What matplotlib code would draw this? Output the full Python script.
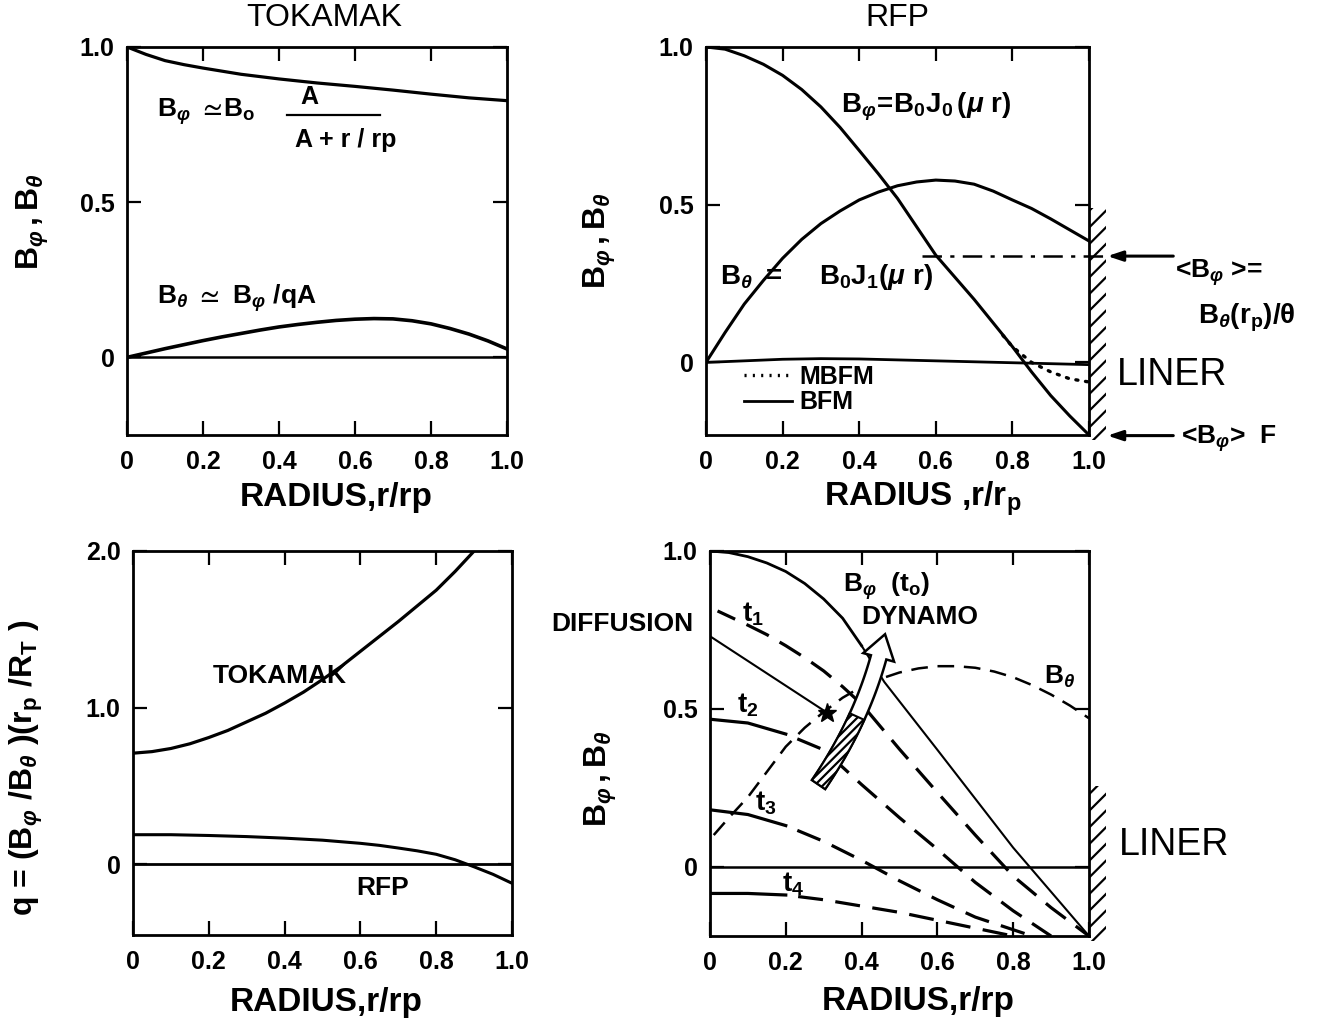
import numpy as np
import matplotlib
matplotlib.use('Agg')
import matplotlib.pyplot as plt
from matplotlib.patches import Polygon, Rectangle
from matplotlib.lines import Line2D

plt.rcParams['font.family'] = ['Liberation Sans', 'DejaVu Sans']
plt.rcParams['font.weight'] = 'bold'
plt.rcParams['axes.labelweight'] = 'bold'
plt.rcParams['mathtext.fontset'] = 'custom'
plt.rcParams['mathtext.rm'] = 'Liberation Sans:bold'
plt.rcParams['mathtext.it'] = 'Liberation Sans:bold:italic'
plt.rcParams['mathtext.bf'] = 'Liberation Sans:bold'
plt.rcParams['mathtext.sf'] = 'Liberation Sans:bold'
plt.rcParams['mathtext.fallback'] = 'stixsans'
plt.rcParams['hatch.linewidth'] = 1.6
plt.rcParams['lines.scale_dashes'] = False
plt.rcParams['axes.linewidth'] = 2.0

# ---- data ----
rad_ticks = [0, 0.2, 0.4, 0.6, 0.8, 1.0]
rad_labels = ['0', '0.2', '0.4', '0.6', '0.8', '1.0']

# tokamak fields
r_tok = [0, 0.05, 0.1, 0.15, 0.2, 0.3, 0.4, 0.5, 0.6, 0.7, 0.8, 0.9, 1.0]
bphi_tok = [1.0, 0.976, 0.956, 0.943, 0.932, 0.912, 0.897, 0.884, 0.873, 0.861, 0.848, 0.836, 0.827]
r_tok2 = [0, 0.05, 0.1, 0.15, 0.2, 0.25, 0.3, 0.35, 0.4, 0.45, 0.5, 0.55, 0.6, 0.65, 0.7,
          0.75, 0.8, 0.85, 0.9, 0.95, 1.0]
btheta_tok = [0.0, 0.014, 0.028, 0.041, 0.054, 0.066, 0.077, 0.088, 0.098, 0.106, 0.113,
              0.119, 0.123, 0.125, 0.124, 0.118, 0.108, 0.093, 0.075, 0.053, 0.027]

# rfp fields (BFM)
r_rfp = [0, 0.05, 0.1, 0.15, 0.2, 0.25, 0.3, 0.35, 0.4, 0.45, 0.5, 0.55, 0.6, 0.65, 0.7,
         0.75, 0.8, 0.85, 0.9, 0.95, 1.0]
bphi_rfp = [1.0, 0.993, 0.972, 0.945, 0.91, 0.865, 0.81, 0.745, 0.672, 0.598, 0.52, 0.43,
            0.34, 0.27, 0.2, 0.125, 0.05, -0.03, -0.105, -0.17, -0.23]
btheta_rfp = [0.0, 0.095, 0.185, 0.26, 0.33, 0.39, 0.44, 0.48, 0.515, 0.54, 0.56, 0.572,
              0.578, 0.575, 0.565, 0.543, 0.515, 0.488, 0.455, 0.42, 0.385]
r_base = [0, 0.1, 0.2, 0.3, 0.4, 0.5, 0.6, 0.7, 0.8, 0.9, 1.0]
base_rfp = [0.0, 0.005, 0.01, 0.012, 0.011, 0.008, 0.005, 0.002, -0.001, -0.004, -0.007]
# MBFM edge
r_mbfm = [0.775, 0.8, 0.85, 0.9, 0.95, 1.0]
bphi_mbfm = [0.086, 0.05, 0.0, -0.03, -0.052, -0.062]
# <B_phi> level
r_avg = [0.563, 1.04]
bphi_avg = [0.337, 0.337]

# safety factor
r_q_tok = [0, 0.05, 0.1, 0.15, 0.2, 0.25, 0.3, 0.35, 0.4, 0.45, 0.5, 0.55, 0.6, 0.65, 0.7,
           0.75, 0.8, 0.85, 0.9, 0.92]
q_tok = [0.71, 0.72, 0.74, 0.77, 0.81, 0.855, 0.91, 0.965, 1.03, 1.10, 1.18, 1.265, 1.36,
         1.455, 1.55, 1.65, 1.75, 1.87, 2.0, 2.05]
r_q_rfp = [0, 0.1, 0.2, 0.3, 0.4, 0.5, 0.6, 0.65, 0.7, 0.75, 0.8, 0.85, 0.9, 0.95, 1.0]
q_rfp = [0.19, 0.19, 0.185, 0.178, 0.168, 0.155, 0.135, 0.122, 0.105, 0.087, 0.065, 0.03,
         -0.015, -0.063, -0.12]

# field diffusion / dynamo
r_t0 = [0, 0.05, 0.1, 0.15, 0.2, 0.25, 0.3, 0.35, 0.4, 0.46, 0.6, 0.7, 0.8, 0.9, 1.0]
bphi_t0 = [1.0, 0.995, 0.982, 0.962, 0.935, 0.897, 0.848, 0.787, 0.70, 0.585, 0.37, 0.215,
           0.06, -0.08, -0.22]
r_t1 = [0.02, 0.1, 0.15, 0.2, 0.25, 0.3, 0.35, 0.4, 0.5, 0.6, 0.7, 0.8, 0.9, 1.0]
bphi_t1 = [0.81, 0.765, 0.735, 0.70, 0.662, 0.62, 0.57, 0.515, 0.372, 0.235, 0.10, -0.03,
           -0.13, -0.22]
r_t2 = [0, 0.1, 0.2, 0.3, 0.4, 0.5, 0.6, 0.7, 0.8, 0.9]
bphi_t2 = [0.467, 0.455, 0.42, 0.37, 0.26, 0.155, 0.055, -0.05, -0.14, -0.22]
r_t3 = [0, 0.1, 0.2, 0.3, 0.4, 0.5, 0.6, 0.7, 0.85]
bphi_t3 = [0.18, 0.165, 0.13, 0.08, 0.02, -0.045, -0.105, -0.16, -0.22]
r_t4 = [0, 0.1, 0.2, 0.3, 0.4, 0.5, 0.6, 0.7, 0.8]
bphi_t4 = [-0.085, -0.085, -0.09, -0.105, -0.125, -0.145, -0.17, -0.195, -0.22]
r_bth = [0.01, 0.05, 0.1, 0.15, 0.2, 0.25, 0.3, 0.35, 0.4, 0.45, 0.5, 0.55, 0.6, 0.65, 0.7,
         0.75, 0.8, 0.85, 0.9, 0.95, 1.0]
btheta_br = [0.10, 0.155, 0.22, 0.30, 0.38, 0.44, 0.49, 0.535, 0.57, 0.595, 0.615, 0.628,
             0.635, 0.635, 0.63, 0.618, 0.60, 0.575, 0.545, 0.51, 0.47]
r_diff = [0, 0.31]
bphi_diff = [0.73, 0.487]


def frame(ax, ylim, yticks, ylabels):
    ax.set_xlim(0, 1)
    ax.set_ylim(*ylim)
    ax.set_xticks(rad_ticks)
    ax.set_xticklabels(rad_labels)
    ax.set_yticks(yticks)
    ax.set_yticklabels(ylabels)
    ax.tick_params(direction='in', length=10, width=1.6, top=True, right=True,
                   labelsize=18)
    ax.tick_params(axis='x', pad=11)
    ax.tick_params(axis='y', pad=9)


def hollow_arrow(ax, p0, p1, p2, w, hw, hl, split):
    T = ax.transData
    P = T.transform([p0, p1, p2])
    t = np.linspace(0, 1, 60)[:, None]
    B = (1 - t) ** 2 * P[0] + 2 * (1 - t) * t * P[1] + t ** 2 * P[2]
    dB = 2 * (1 - t) * (P[1] - P[0]) + 2 * t * (P[2] - P[1])
    d = dB / np.linalg.norm(dB, axis=1)[:, None]
    n = np.column_stack([-d[:, 1], d[:, 0]])
    left = B + n * w / 2
    right = B - n * w / 2
    tip = B[-1] + d[-1] * hl
    wl = B[-1] + n[-1] * hw / 2
    wr = B[-1] - n[-1] * hw / 2
    outline = np.vstack([left, wl, tip, wr, right[::-1]])
    inv = T.inverted()
    ax.add_patch(Polygon(inv.transform(outline), closed=True, facecolor='white',
                         edgecolor='black', lw=1.8, zorder=6))
    k = int(split * len(t))
    part = np.vstack([left[:k], right[:k][::-1]])
    ax.add_patch(Polygon(inv.transform(part), closed=True, facecolor='white',
                         edgecolor='black', lw=1.5, hatch='////', zorder=7))


fig = plt.figure(figsize=(13.3, 10.23), dpi=100)
ax1 = fig.add_axes([0.0955, 0.5748, 0.2857, 0.3793])
ax2 = fig.add_axes([0.5308, 0.5748, 0.2880, 0.3793])
ax3 = fig.add_axes([0.1000, 0.0860, 0.2850, 0.3754])
ax4 = fig.add_axes([0.5338, 0.0850, 0.2850, 0.3764])

# ---- tokamak B ----
frame(ax1, (-0.25, 1.0), [0, 0.5, 1.0], ['0', '0.5', '1.0'])
ax1.plot(r_tok, bphi_tok, color='black', lw=2.3)
ax1.plot(r_tok2, btheta_tok, color='black', lw=2.6)
ax1.axhline(0, color='black', lw=1.8)
ax1.text(0.52, 1.035, 'TOKAMAK', transform=ax1.transAxes, ha='center', va='bottom',
         fontsize=23, fontweight='normal')
ax1.text(0.079, 0.79, r'$\mathrm{B}_{φ}\ \simeq\!\mathrm{B_o}$', fontsize=19, va='center')
ax1.text(0.48, 0.84, 'A', fontsize=18, ha='center', va='center')
ax1.plot([0.42, 0.666], [0.78, 0.78], color='black', lw=1.6)
ax1.text(0.576, 0.70, 'A + r / rp', fontsize=18, ha='center', va='center')
ax1.text(0.079, 0.19, r'$\mathrm{B}_{θ}\ \simeq\ \mathrm{B}_{φ}\ \mathrm{/qA}$', fontsize=19,
         va='center')
ax1.set_xlabel('RADIUS,r/rp', fontsize=24)
ax1.xaxis.set_label_coords(0.55, -0.12)
ax1.set_ylabel(r'$\mathrm{B}_{φ}\,,\mathrm{B}_{θ}$', fontsize=23)
ax1.yaxis.set_label_coords(-0.2, 0.55)

# ---- RFP B ----
frame(ax2, (-0.23, 1.0), [0, 0.5, 1.0], ['0', '0.5', '1.0'])
ax2.plot(r_rfp, bphi_rfp, color='black', lw=2.2)
ax2.plot(r_rfp, btheta_rfp, color='black', lw=2.2)
ax2.plot(r_base, base_rfp, color='black', lw=2.0)
ax2.plot(r_mbfm, bphi_mbfm, color='black', lw=2.4, linestyle=(0, (1.5, 5.5)),
         dash_capstyle='round')
ax2.plot(r_avg, bphi_avg, color='black', lw=1.8, linestyle=(0, (14, 6, 3, 6)), clip_on=False)
ax2.add_patch(Rectangle((1.0, -0.245), 0.045, 0.735, fill=False, hatch='//',
                        edgecolor='black', lw=0, clip_on=False))
for yv in [bphi_avg[0], -0.232]:
    ax2.annotate('', xy=(1.048, yv), xytext=(1.22, yv), annotation_clip=False,
                 arrowprops=dict(arrowstyle='-|>,head_length=0.9,head_width=0.3',
                                 lw=2.2, color='black', shrinkA=0, shrinkB=0))
ax2.text(0.5, 1.035, 'RFP', transform=ax2.transAxes, ha='center', va='bottom',
         fontsize=23, fontweight='normal')
ax2.text(0.352, 0.81, r'$\mathrm{B}_{φ}\!=\!\mathrm{B_0 J_0}\,(μ\ \mathrm{r})$', fontsize=20,
         va='center')
ax2.text(0.037, 0.27, r'$\mathrm{B}_{θ}\ =\quad\ \mathrm{B_0 J_1}(μ\ \mathrm{r})$', fontsize=20,
         va='center')
ax2.text(1.224, 0.286, r'<B$_{φ}$ >=', fontsize=19, va='center', clip_on=False)
ax2.text(1.285, 0.14, r'B$_{θ}$(r$_\mathrm{p}$)/θ', fontsize=20, va='center', clip_on=False)
ax2.text(1.073, -0.041, 'LINER', fontsize=27, fontweight='normal', va='center', clip_on=False)
ax2.text(1.24, -0.241, r'<B$_{φ}$>  F', fontsize=19, va='center', clip_on=False)
leg_h = [Line2D([], [], color='black', lw=2.4, linestyle=(0, (1.5, 4.5))),
         Line2D([], [], color='black', lw=2.0)]
ax2.legend(leg_h, ['MBFM', 'BFM'], loc='upper left', bbox_to_anchor=(0.1, 0.18),
           frameon=False, fontsize=18, handlelength=1.9, handletextpad=0.3,
           labelspacing=0.05, borderpad=0, borderaxespad=0)
ax2.set_xlabel(r'RADIUS ,r/r$_\mathrm{p}$', fontsize=24)
ax2.xaxis.set_label_coords(0.566, -0.115)
ax2.set_ylabel(r'$\mathrm{B}_{φ}\,,\mathrm{B}_{θ}$', fontsize=23)
ax2.yaxis.set_label_coords(-0.23, 0.5)

# ---- safety factor ----
frame(ax3, (-0.45, 2.0), [0, 1.0, 2.0], ['0', '1.0', '2.0'])
ax3.plot(r_q_tok, q_tok, color='black', lw=2.3)
ax3.plot(r_q_rfp, q_rfp, color='black', lw=2.2)
ax3.axhline(0, color='black', lw=2.0)
ax3.text(0.21, 1.2, 'TOKAMAK', fontsize=19, va='center')
ax3.text(0.59, -0.15, 'RFP', fontsize=19, va='center')
ax3.set_xlabel('RADIUS,r/rp', fontsize=24)
ax3.xaxis.set_label_coords(0.51, -0.135)
ax3.set_ylabel(r'q = $(\mathrm{B}_{φ}\ /\mathrm{B}_{θ}\ )(\mathrm{r_p}\ /\mathrm{R_T}\ )$',
               fontsize=23)
ax3.yaxis.set_label_coords(-0.232, 0.435)

# ---- diffusion / dynamo ----
frame(ax4, (-0.22, 1.0), [0, 0.5, 1.0], ['0', '0.5', '1.0'])
ax4.axhline(0, color='black', lw=1.8)
ax4.plot(r_t0[:9], bphi_t0[:9], color='black', lw=2.0)
ax4.plot(r_t0[8:], bphi_t0[8:], color='black', lw=1.5)
gap_t = (18, (18, 9))
ax4.plot(r_t1, bphi_t1, color='black', lw=2.3, linestyle=(4, (18, 9)))
for rr, bb in [(r_t2, bphi_t2), (r_t3, bphi_t3), (r_t4, bphi_t4)]:
    ax4.plot(rr[:3], bb[:3], color='black', lw=2.3)
    ax4.plot(rr[2:], bb[2:], color='black', lw=2.3, linestyle=gap_t)
ax4.plot(r_bth, btheta_br, color='black', lw=1.8, linestyle=(0, (12, 7)))
ax4.plot(r_diff, bphi_diff, color='black', lw=1.5, marker='*', markersize=14, markevery=[1])
hollow_arrow(ax4, (0.2865, 0.26), (0.397, 0.455), (0.445, 0.663), 16, 32, 24, 0.55)
ax4.add_patch(Rectangle((1.0, -0.235), 0.045, 0.49, fill=False, hatch='//',
                        edgecolor='black', lw=0, clip_on=False))
ax4.text(0.352, 0.89, r'B$_{φ}$  (t$_\mathrm{o}$)', fontsize=19, va='center')
ax4.text(0.40, 0.79, 'DYNAMO', fontsize=19, va='center')
ax4.text(0.88, 0.60, r'B$_{θ}$', fontsize=19, va='center')
ax4.text(0.085, 0.80, r't$_1$', fontsize=20, va='center')
ax4.text(0.072, 0.51, r't$_2$', fontsize=20, va='center')
ax4.text(0.12, 0.20, r't$_3$', fontsize=20, va='center')
ax4.text(0.19, -0.057, r't$_4$', fontsize=20, va='center')
ax4.text(-0.045, 0.77, 'DIFFUSION', fontsize=19, ha='right', va='center', clip_on=False)
ax4.text(1.08, 0.07, 'LINER', fontsize=27, fontweight='normal', va='center', clip_on=False)
ax4.set_xlabel('RADIUS,r/rp', fontsize=24)
ax4.xaxis.set_label_coords(0.55, -0.13)
ax4.set_ylabel(r'$\mathrm{B}_{φ}\,,\mathrm{B}_{θ}$', fontsize=23)
ax4.yaxis.set_label_coords(-0.24, 0.41)

fig.savefig('out.png', dpi=100)
